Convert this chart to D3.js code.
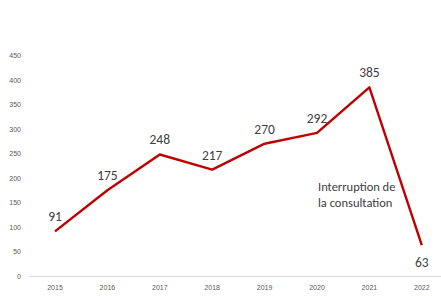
<!DOCTYPE html>
<html><head><meta charset="utf-8">
<script src="https://cdn.jsdelivr.net/npm/d3@7"></script>
<style>body{margin:0;background:#fff}svg{display:block;font-family:Carlito,Lato,"Liberation Sans",Arial,sans-serif}</style>
</head><body><svg id="c" width="441" height="296"></svg>
<script>
const years = ["2015","2016","2017","2018","2019","2020","2021","2022"];
const values = [91,175,248,217,270,292,385,63];
const yTicks = [0,50,100,150,200,250,300,350,400,450];
const annotation = ["Interruption de","la consultation"];

const svg = d3.select("#c");
const x = d3.scaleBand().domain(years).range([28.8, 448]);
const y = d3.scaleLinear().domain([0,450]).range([276, 55.5]);

const ya = svg.append("g").attr("transform","translate(21,0)")
  .call(d3.axisLeft(y).tickValues(yTicks).tickSize(0).tickPadding(0));
ya.select(".domain").remove();
ya.selectAll("text").attr("fill","#595959").style("font-size","7px").style("font-family","'Liberation Sans',Arial,sans-serif");

const xa = svg.append("g").attr("transform","translate(0,276)")
  .call(d3.axisBottom(x).tickSize(0).tickPadding(9));
xa.select(".domain").attr("stroke","#d9d9d9").attr("stroke-width",1);
xa.selectAll("text").attr("fill","#595959").style("font-size","7px").style("font-family","'Liberation Sans',Arial,sans-serif");

const cx = d => x(d) + x.bandwidth()/2;
const line = d3.line().x((d,i)=>cx(years[i])).y(d=>y(d));
svg.append("path").datum(values).attr("d",line)
  .attr("fill","none").attr("stroke","#c00000").attr("stroke-width",2.4).attr("stroke-linejoin","round");

svg.append("g").selectAll("text").data(values).join("text")
  .attr("x",(d,i)=>cx(years[i]))
  .attr("y",(d,i)=> i===values.length-1 ? y(d)+22 : y(d)-10)
  .attr("text-anchor","middle")
  .attr("fill","#404040").style("font-size","13.5px")
  .text(d=>d);

svg.append("g").selectAll("text").data(annotation).join("text")
  .attr("x",318).attr("y",(d,i)=>191+i*15.5)
  .attr("fill","#404040").style("font-size","12.5px")
  .text(d=>d);
</script></body></html>
